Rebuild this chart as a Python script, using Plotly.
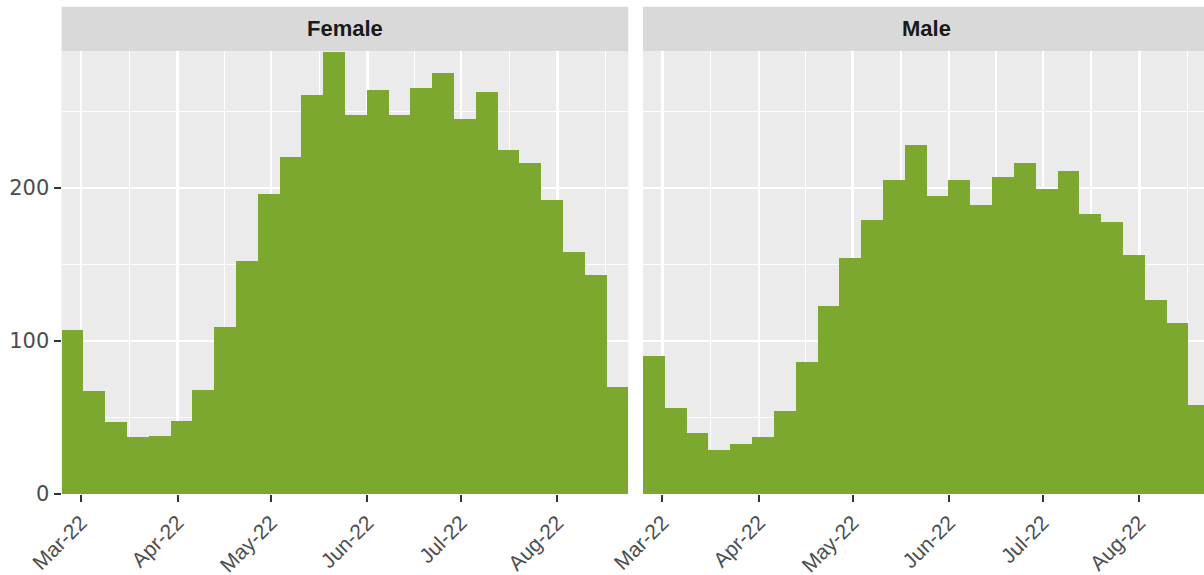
import pandas as pd
import plotly.graph_objects as go

# ---- data -------------------------------------------------------------
facets = ["Female", "Male"]
week_starts = pd.date_range("2022-02-22 18:00", periods=26, freq="7D")
female_counts = [107, 67, 47, 37, 38, 48, 68, 109, 152, 196, 220, 261, 289,
                 248, 264, 248, 265, 275, 245, 263, 225, 216, 192, 158, 143, 70]
male_counts = [90, 56, 40, 29, 33, 37, 54, 86, 123, 154, 179, 205, 228,
               195, 205, 189, 207, 216, 199, 211, 183, 178, 156, 127, 112, 58]
x_tick_dates = ["2022-03-01", "2022-04-01", "2022-05-01", "2022-06-01",
                "2022-07-01", "2022-08-01"]
x_tick_labels = ["Mar-22", "Apr-22", "May-22", "Jun-22", "Jul-22", "Aug-22"]
x_minor_dates = ["2022-03-16 12:00", "2022-04-16", "2022-05-16 12:00",
                 "2022-06-16", "2022-07-16 12:00", "2022-08-16 12:00"]
y_ticks = [0, 100, 200]
y_minor = [50, 150, 250]

# ---- geometry ---------------------------------------------------------
W, H = 1204, 575
bin_days = 7
week_ms = bin_days * 86400000
centers = week_starts + pd.Timedelta(days=bin_days / 2)
x_start = week_starts[0]
female_range = [x_start, x_start + pd.Timedelta(days=182)]
male_range = [x_start, x_start + pd.Timedelta(days=180)]

f_dom = [61.5 / W, 628.3 / W]
m_dom = [643.0 / W, 1.0]
y_dom = [(H - 494) / H, (H - 51) / H]
strip_y = [(H - 51) / H, (H - 6.7) / H]

BAR = "#7DA82F"
PANEL = "#EBEBEB"
STRIP = "#D9D9D9"
TXT = "#4D4D4D"
FONT = "Liberation Sans, Arial, sans-serif"
YFONT = "DejaVu Sans, Liberation Sans, sans-serif"

fig = go.Figure()
fig.add_trace(go.Bar(x=centers, y=female_counts, width=week_ms,
                     marker=dict(color=BAR, line=dict(width=0)),
                     xaxis="x", yaxis="y", name=facets[0], showlegend=False))
fig.add_trace(go.Bar(x=centers, y=male_counts, width=week_ms,
                     marker=dict(color=BAR, line=dict(width=0)),
                     xaxis="x2", yaxis="y2", name=facets[1], showlegend=False))

xcommon = dict(
    type="date", tickmode="array", tickvals=x_tick_dates, ticktext=x_tick_labels,
    tickangle=-45, ticks="outside", ticklen=7, tickwidth=2, tickcolor="#333333",
    tickfont=dict(family=FONT, size=21, color=TXT),
    showgrid=True, gridcolor="white", gridwidth=2.4,
    minor=dict(tickvals=x_minor_dates, showgrid=True, gridcolor="white",
               gridwidth=1.2, ticks=""),
    zeroline=False, showline=False, fixedrange=True, automargin=False,
)
ycommon = dict(
    range=[0, 289.5], tickmode="array", tickvals=y_ticks,
    showgrid=True, gridcolor="white", gridwidth=2.4,
    minor=dict(tickvals=y_minor, showgrid=True, gridcolor="white",
               gridwidth=1.2, ticks=""),
    zeroline=False, showline=False, domain=y_dom, automargin=False,
    fixedrange=True,
)

fig.update_layout(
    width=W, height=H, autosize=False,
    margin=dict(l=0, r=0, t=0, b=0, pad=0),
    paper_bgcolor="white", plot_bgcolor=PANEL,
    bargap=0, barmode="overlay",
    xaxis=dict(domain=f_dom, range=female_range, anchor="y", **xcommon),
    xaxis2=dict(domain=m_dom, range=male_range, anchor="y2", **xcommon),
    yaxis=dict(anchor="x", ticks="outside", ticklen=7, tickwidth=2,
               tickcolor="#333333",
               tickfont=dict(family=YFONT, size=21, color=TXT), **ycommon),
    yaxis2=dict(anchor="x2", matches="y", showticklabels=False, ticks="",
                **ycommon),
    font=dict(family=FONT),
)

for dom, label in [(f_dom, facets[0]), ([643.0 / W, 1210.3 / W], facets[1])]:
    fig.add_shape(type="rect", xref="paper", yref="paper",
                  x0=dom[0], x1=min(dom[1], 1.0), y0=strip_y[0], y1=strip_y[1],
                  fillcolor=STRIP, line=dict(width=0), layer="below")
    fig.add_annotation(x=(dom[0] + dom[1]) / 2, y=(strip_y[0] + strip_y[1]) / 2,
                       xref="paper", yref="paper", text="<b>%s</b>" % label,
                       showarrow=False, xanchor="center", yanchor="middle",
                       font=dict(family=FONT, size=22, color="#1A1A1A"))

fig.write_html(
    "out.html",
    config={"displayModeBar": False, "staticPlot": True},
    post_script="document.body.style.margin='0';document.body.style.overflow='hidden';",
)
